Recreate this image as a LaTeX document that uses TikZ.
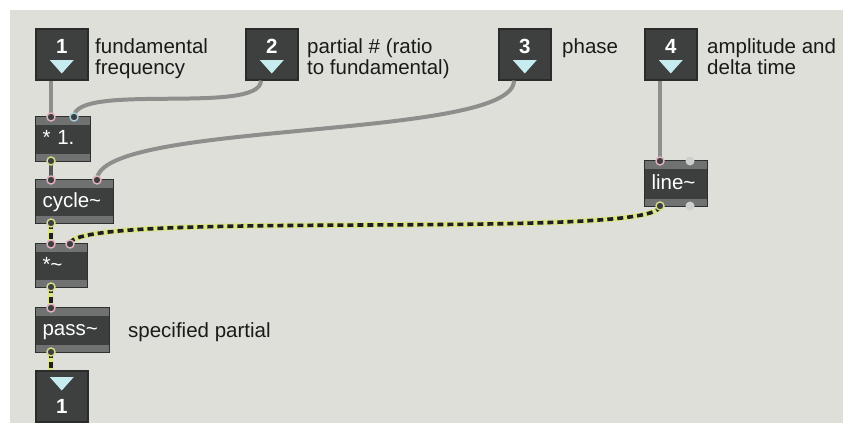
\documentclass[tikz,border=0pt]{standalone}
\usepackage{fontspec}
\setmainfont{Liberation Sans}
\definecolor{patchbg}{HTML}{DFDFDA}
\definecolor{iobody}{HTML}{3E403F}
\definecolor{ioedge}{HTML}{2A2B2B}
\definecolor{tricyan}{HTML}{C6ECF0}
\definecolor{objbody}{HTML}{3C3F3E}
\definecolor{objedge}{HTML}{2E302F}
\definecolor{objstrip}{HTML}{6F7271}
\definecolor{lbltext}{HTML}{1A1A1A}
\definecolor{cordgray}{HTML}{8E8E8C}
\definecolor{corddark}{HTML}{555756}
\definecolor{sigyel}{HTML}{DCE48C}
\definecolor{sigdash}{HTML}{1E1E1E}
\definecolor{pinpink}{HTML}{E4B2C2}
\definecolor{pinblue}{HTML}{A8CFE0}
\definecolor{poutyel}{HTML}{D6DE8C}
\definecolor{pinidle}{HTML}{CFCFCD}
\newcommand\lblfont{\fontsize{20.5}{21}\selectfont}
\begin{document}
\begin{tikzpicture}[x=1pt,y=-1pt,
io/.style={draw=ioedge,line width=1.5,fill=iobody,anchor=north west,inner sep=0,minimum width=52,minimum height=51},
ionum/.style={text=white,font=\fontsize{20.5}{20.5}\selectfont\bfseries,inner sep=0},
tri/.style={fill=tricyan},
obj/.style={draw=objedge,line width=1,fill=objbody,anchor=north west,inner xsep=7,inner ysep=0,minimum height=45,align=left,text=white,font=\lblfont,text height=15,text depth=4,
 path picture={\fill[objstrip](path picture bounding box.north west)rectangle([yshift=-8pt]path picture bounding box.north east);
 \fill[objstrip]([yshift=8pt]path picture bounding box.south west)rectangle(path picture bounding box.south east);}},
lbl/.style={anchor=north west,inner sep=0,align=left,font=\lblfont,text=lbltext},
cord/.style={draw=cordgray,line width=4},
darkcord/.style={draw=corddark,line width=4},
sig/.style={preaction={draw=sigyel,line width=5.5,solid},draw=sigdash,line width=3.6,dash pattern=on 6pt off 4pt},
pin/.style={draw=pinpink,fill=objbody,line width=1.4},
pinf/.style={draw=pinblue,fill=objbody,line width=1.4},
pout/.style={draw=poutyel,fill=objbody,line width=1.4},
pidle/.style={fill=pinidle}]
\useasboundingbox(0,0)rectangle(843,423);
\fill[white](0,0)rectangle(843,423);
\fill[patchbg](10,10)rectangle(843,423);
\node[io](in1)at(35,28){};
\node[ionum](n1)at([yshift=-18pt]in1.north){1};
\fill[tri]([yshift=-32pt]in1.north)++(-12,0)--++(24,0)--++(-12,13.5)--cycle;
\node[io](in2)at(245,28){};
\node[ionum](n2)at([yshift=-18pt]in2.north){2};
\fill[tri]([yshift=-32pt]in2.north)++(-12,0)--++(24,0)--++(-12,13.5)--cycle;
\node[io](in3)at(498,28){};
\node[ionum](n3)at([yshift=-18pt]in3.north){3};
\fill[tri]([yshift=-32pt]in3.north)++(-12,0)--++(24,0)--++(-12,13.5)--cycle;
\node[io](in4)at(644,28){};
\node[ionum](n4)at([yshift=-18pt]in4.north){4};
\fill[tri]([yshift=-32pt]in4.north)++(-12,0)--++(24,0)--++(-12,13.5)--cycle;
\node[io](out1)at(35,370){};
\node[ionum](m1)at([yshift=-36pt]out1.north){1};
\fill[tri]([yshift=-7pt]out1.north)++(-12,0)--++(24,0)--++(-12,13.5)--cycle;
\node[lbl](t1)at(95,38){fundamental\\frequency};
\node[lbl](t2)at(307,38){partial \# (ratio\\to fundamental)};
\node[lbl](t3)at(562,38){phase};
\node[lbl](t4)at(707,38){amplitude and\\delta time};
\node[lbl](t5)at(128,322){specified partial};
\node[obj,minimum width=55,text width=41](mul)at(35,116){* 1.};
\node[obj,minimum width=78,text width=64,minimum height=44](cyc)at(35,179){cycle\textasciitilde};
\node[obj,minimum width=52,text width=38,minimum height=44](sigmul)at(35,243){*\textasciitilde};
\node[obj,minimum width=74,text width=60](pass)at(35,307){pass\textasciitilde};
\node[obj,minimum width=63,text width=49,minimum height=46](line)at(644,160){line\textasciitilde};
\coordinate(in1-o)at([xshift=16pt]in1.south west);
\coordinate(in2-o)at([xshift=16pt]in2.south west);
\coordinate(in3-o)at([xshift=16pt]in3.south west);
\coordinate(in4-o)at([xshift=16pt]in4.south west);
\coordinate(out1-i)at([xshift=16pt]out1.north west);
\coordinate(mul-i1)at([xshift=16pt,yshift=-1pt]mul.north west);
\coordinate(mul-i2)at([xshift=39pt,yshift=-1pt]mul.north west);
\coordinate(mul-o)at([xshift=16pt,yshift=1pt]mul.south west);
\coordinate(cyc-i1)at([xshift=16pt,yshift=-1pt]cyc.north west);
\coordinate(cyc-i2)at([xshift=62pt,yshift=-1pt]cyc.north west);
\coordinate(cyc-o)at([xshift=16pt,yshift=1pt]cyc.south west);
\coordinate(sigmul-i1)at([xshift=16pt,yshift=-1pt]sigmul.north west);
\coordinate(sigmul-i2)at([xshift=35pt,yshift=-1pt]sigmul.north west);
\coordinate(sigmul-o)at([xshift=16pt,yshift=1pt]sigmul.south west);
\coordinate(pass-i)at([xshift=16pt,yshift=-1pt]pass.north west);
\coordinate(pass-o)at([xshift=16pt,yshift=1pt]pass.south west);
\coordinate(line-i1)at([xshift=16pt,yshift=-1pt]line.north west);
\coordinate(line-i2)at([xshift=46pt,yshift=-1pt]line.north west);
\coordinate(line-o1)at([xshift=16pt,yshift=1pt]line.south west);
\coordinate(line-o2)at([xshift=46pt,yshift=1pt]line.south west);
\draw[cord](in1-o)--(mul-i1);
\draw[cord](in2-o)..controls+(0,35)and+(0,-35)..(mul-i2);
\draw[cord](in3-o)..controls+(0,60)and+(0,-60)..(cyc-i2);
\draw[cord](in4-o)--(line-i1);
\draw[darkcord](mul-o)--(cyc-i1);
\draw[sig](cyc-o)--(sigmul-i1);
\draw[sig](line-o1)..controls+(0,35)and+(0,-35)..(sigmul-i2);
\draw[sig](sigmul-o)--(pass-i);
\draw[sig](pass-o)--(out1-i);
\draw[pin](mul-i1)circle(4);
\draw[pinf](mul-i2)circle(4);
\draw[pout](mul-o)circle(4);
\draw[pin](cyc-i1)circle(4);
\draw[pin](cyc-i2)circle(4);
\draw[pout](cyc-o)circle(4);
\draw[pin](sigmul-i1)circle(4);
\draw[pin](sigmul-i2)circle(4);
\draw[pout](sigmul-o)circle(4);
\draw[pin](pass-i)circle(4);
\draw[pout](pass-o)circle(4);
\draw[pin](line-i1)circle(4);
\fill[pidle](line-i2)circle(4.5);
\draw[pout](line-o1)circle(4);
\fill[pidle](line-o2)circle(4.5);
\end{tikzpicture}
\end{document}
